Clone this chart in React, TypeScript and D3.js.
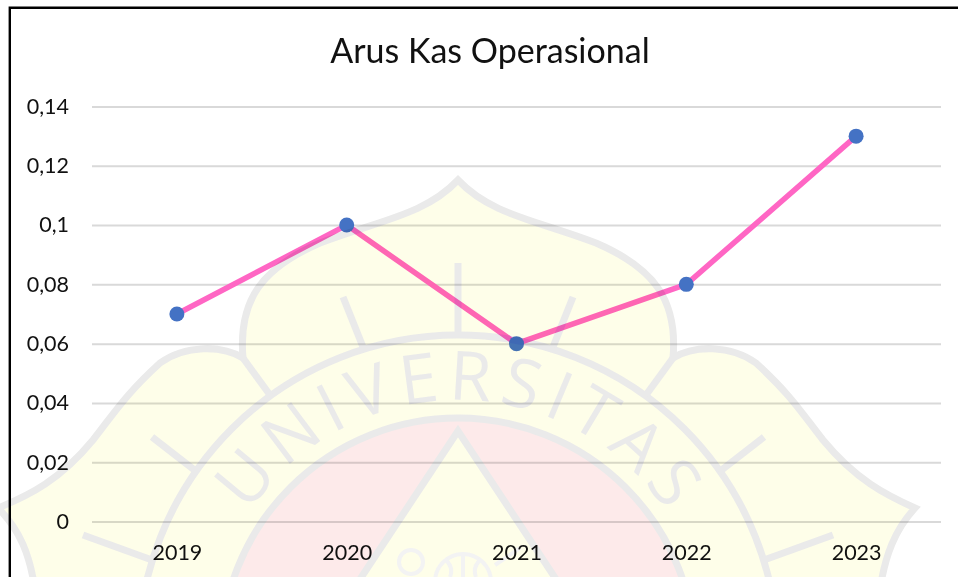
import { useEffect, useRef } from "react";
import * as d3 from "d3";

const years = ["2019", "2020", "2021", "2022", "2023"];
const arusKas = [0.07, 0.1, 0.06, 0.08, 0.13];
const yTicks = [0, 0.02, 0.04, 0.06, 0.08, 0.1, 0.12, 0.14];
const title = "Arus Kas Operasional";

const width = 958;
const height = 577;
const font = "Lato, Carlito, sans-serif";
const gray = "#eaeaea";

// watermark behind the chart
const cx = 458;
const cy = 655;
const outline =
  "M-2,508 C30,495 60,480 93,440 C115,412 125,395 160,363 C185,345 222,345 243,358 C238,300 262,268 320,243 C380,220 425,215 458,180 C491,215 536,220 596,243 C654,268 678,300 673,358 C694,345 731,345 756,363 C791,395 801,412 823,440 C856,480 886,495 915,508 C895,530 885,555 880,590 L35,590 C30,555 20,530 -2,508 Z";
const triangle = "M458,431 L300,670 H616 Z";
const spokes = [
  "M458,263 L458,333",
  "M343,297 L363,347",
  "M573,297 L553,347",
  "M152,437 L197,472",
  "M764,437 L719,472",
  "M83,535 L152,560",
  "M833,535 L764,560",
  "M243,358 L270,395",
  "M673,358 L646,395",
];

const App = () => {
  const svgRef = useRef<SVGSVGElement | null>(null);

  useEffect(() => {
    const svg = d3.select(svgRef.current as SVGSVGElement);
    svg.selectAll("*").remove();

    const x = d3.scalePoint<string>().domain(years).range([92, 941]).padding(0.5);
    const y = d3.scaleLinear().domain([0, 0.14]).range([521.5, 106.5]);

    svg.append("rect").attr("width", width).attr("height", height).attr("fill", "#fff");

    // frame: top and left only, the rest is cropped away
    svg
      .append("path")
      .attr("d", `M9.8,${height} V7.8 H${width}`)
      .attr("fill", "none")
      .attr("stroke", "#000")
      .attr("stroke-width", 2.4);

    const gy = svg
      .append("g")
      .attr("transform", "translate(92,0)")
      .call(
        d3
          .axisLeft(y)
          .tickValues(yTicks)
          .tickSize(0)
          .tickPadding(23)
          .tickFormat((d) => String(d).replace(".", ","))
      );
    gy.select(".domain").remove();
    gy.selectAll("text")
      .attr("font-family", font)
      .attr("font-size", 21.5)
      .attr("fill", "#111");
    gy.selectAll(".tick")
      .append("line")
      .attr("x2", 849)
      .attr("stroke", "#d9d9d9")
      .attr("stroke-width", 2);

    const gx = svg
      .append("g")
      .attr("transform", "translate(0,521.5)")
      .call(d3.axisBottom(x).tickSize(0).tickPadding(23));
    gx.select(".domain").remove();
    gx.selectAll("text")
      .attr("font-family", font)
      .attr("font-size", 21.5)
      .attr("fill", "#111");

    svg
      .append("text")
      .attr("x", 490)
      .attr("y", 63)
      .attr("text-anchor", "middle")
      .attr("font-family", font)
      .attr("font-size", 34)
      .attr("fill", "#111")
      .text(title);

    const line = d3
      .line<number>()
      .x((_, i) => x(years[i]) as number)
      .y((d) => y(d));

    svg
      .append("path")
      .datum(arusKas)
      .attr("d", line)
      .attr("fill", "none")
      .attr("stroke", "#ff66c4")
      .attr("stroke-width", 5.5)
      .attr("stroke-linejoin", "round");

    svg
      .selectAll("circle.point")
      .data(arusKas)
      .join("circle")
      .attr("class", "point")
      .attr("cx", (_, i) => x(years[i]) as number)
      .attr("cy", (d) => y(d))
      .attr("r", 7.5)
      .attr("fill", "#4472c4");

    // multiply keeps everything underneath visible, as on the scanned page
    const wm = svg.append("g").style("mix-blend-mode", "multiply");
    wm.append("path").attr("d", outline).attr("fill", "#fefee9");
    wm.append("circle")
      .attr("cx", cx)
      .attr("cy", cy)
      .attr("r", 237)
      .attr("fill", "#fdeaea");
    wm.append("path").attr("d", triangle).attr("fill", "#fefee9");

    const wmLines = wm
      .append("g")
      .attr("fill", "none")
      .attr("stroke", gray)
      .attr("stroke-width", 7);
    wmLines.append("path").attr("d", outline);
    wmLines.append("circle").attr("cx", cx).attr("cy", cy).attr("r", 320);
    wmLines.append("circle").attr("cx", cx).attr("cy", cy).attr("r", 237);
    wmLines.append("path").attr("d", triangle);
    wmLines
      .selectAll("path.spoke")
      .data(spokes)
      .join("path")
      .attr("class", "spoke")
      .attr("d", (d) => d);

    const emblem = wm
      .append("g")
      .attr("fill", "none")
      .attr("stroke", "#f3f3f3")
      .attr("stroke-width", 4);
    emblem.append("circle").attr("cx", 411).attr("cy", 562).attr("r", 12);
    emblem.append("circle").attr("cx", 463).attr("cy", 582).attr("r", 28);
    emblem
      .append("path")
      .attr("d", "M463,554 V577 M446,560 C452,566 452,572 450,577 M480,560 C474,566 474,572 476,577");
    emblem.append("path").attr("d", "M495,565 L520,548");

    wm.append("path")
      .attr("id", "wm-arc")
      .attr("fill", "none")
      .attr("d", "M218,580 A250,250 0 0 1 698,580");
    wm.append("text")
      .attr("font-family", "'Open Sans', sans-serif")
      .attr("font-size", 68)
      .attr("fill", gray)
      .attr("text-anchor", "middle")
      .attr("letter-spacing", 8)
      .append("textPath")
      .attr("href", "#wm-arc")
      .attr("startOffset", "50.5%")
      .text("UNIVERSITAS");
  }, []);

  return (
    <svg
      ref={svgRef}
      width={width}
      height={height}
      style={{ position: "absolute", left: 0, top: 0 }}
    />
  );
};

export default App;
